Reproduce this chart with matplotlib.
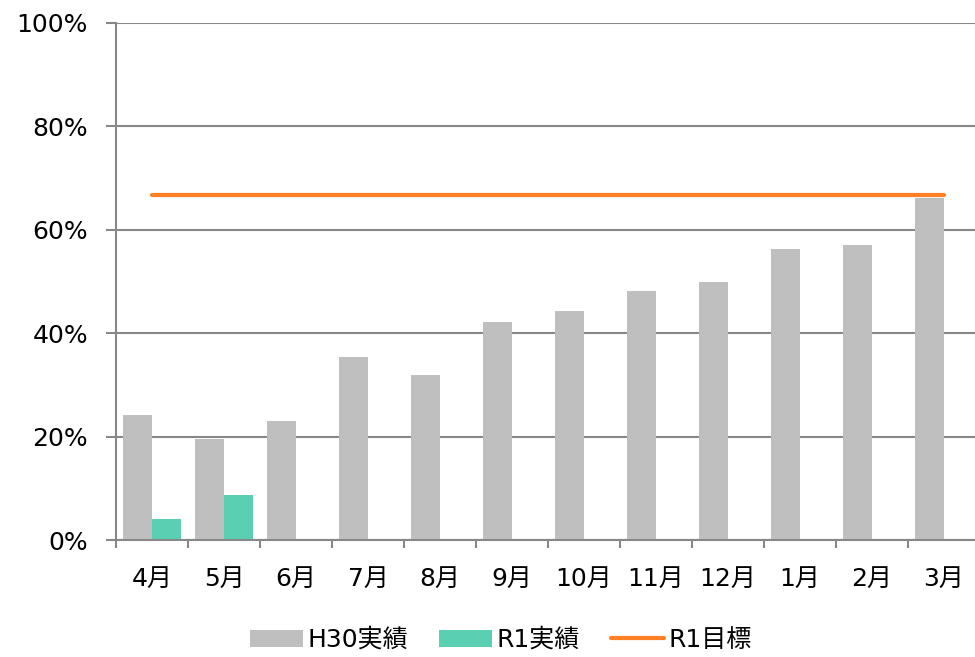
import matplotlib
matplotlib.use("Agg")
import matplotlib.pyplot as plt
import numpy as np
from matplotlib.ticker import PercentFormatter, FixedLocator

plt.rcParams['font.family'] = ['DejaVu Sans', 'Noto Sans CJK JP']

months = ['4月', '5月', '6月', '7月', '8月', '9月', '10月', '11月', '12月', '1月', '2月', '3月']
h30_actual = [24.2, 19.5, 23.1, 35.4, 31.9, 42.2, 44.3, 48.2, 49.9, 56.3, 57.1, 66.2]
r1_actual = [4.0, 8.7]
r1_target = 66.7

GRAY = '#BFBFBF'
TEAL = '#5BCFB1'
ORANGE = '#FF7F24'
AXIS = '#888888'
FS = 18

fig = plt.figure(figsize=(9.75, 6.57), dpi=100)
ax = fig.add_axes([116 / 975, 117 / 657, 864 / 975, 517 / 657])

x = np.arange(len(months))
w = 0.4
b1 = ax.bar(x - w / 2, h30_actual, width=w, color=GRAY, label='H30実績', zorder=2)
b2 = ax.bar(x[:len(r1_actual)] + w / 2, r1_actual, width=w, color=TEAL, label='R1実績', zorder=2)
l1, = ax.plot([x[0], x[-1]], [r1_target, r1_target], color=ORANGE, lw=3.0,
              solid_capstyle='round', label='R1目標', zorder=3)

ax.set_xlim(-0.5, len(months) - 0.5)
ax.set_ylim(0, 100)
ax.set_yticks(np.arange(0, 101, 20))
ax.yaxis.set_major_formatter(PercentFormatter(decimals=0))
ax.set_xticks(x)
ax.set_xticklabels(months)
ax.xaxis.set_minor_locator(FixedLocator(np.arange(-0.5, len(months), 1.0)))

ax.grid(axis='y', color=AXIS, lw=1.5)
ax.set_axisbelow(True)
for s in ['top', 'right']:
    ax.spines[s].set_visible(False)
for s in ['left', 'bottom']:
    ax.spines[s].set_color(AXIS)
    ax.spines[s].set_linewidth(1.5)

ax.tick_params(axis='y', which='major', length=7.2, width=1.5, color=AXIS,
               pad=13, labelsize=FS, labelcolor='black')
ax.tick_params(axis='x', which='major', length=0, pad=19, labelsize=FS, labelcolor='black')
ax.tick_params(axis='x', which='minor', length=6, width=1.5, color=AXIS)

fig.legend(handles=[b1, b2, l1], loc='center', bbox_to_anchor=(0.514, 1 - 640 / 657),
           ncol=3, frameon=False, fontsize=FS, handlelength=2.1, handletextpad=0.2,
           columnspacing=1.25)

fig.savefig('out.png', dpi=100)
